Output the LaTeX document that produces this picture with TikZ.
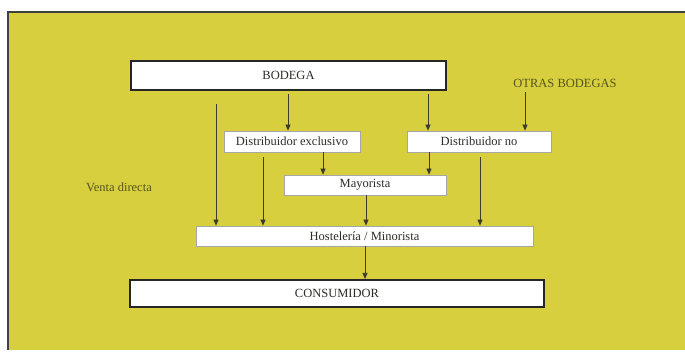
\documentclass[tikz,border=0pt]{standalone}
\usepackage{fontspec}
\setmainfont{Liberation Serif}
\usetikzlibrary{arrows.meta}
\definecolor{bgyellow}{RGB}{215,207,62}
\definecolor{txtdark}{RGB}{45,45,40}
\definecolor{txtolive}{RGB}{85,85,30}
\definecolor{arrcol}{RGB}{60,60,45}
\tikzset{
  box/.style={draw=gray!70, line width=0.7pt, fill=white, inner sep=0pt, text=txtdark,
    font=\fontsize{12.5}{14}\selectfont},
  bigbox/.style={box, draw=black!85, line width=2pt},
  freetext/.style={inner sep=0pt, text=txtolive, font=\fontsize{12.5}{14}\selectfont},
  arr/.style={draw=arrcol, line width=0.7pt, -{Triangle[length=6pt,width=5pt]}}
}
\begin{document}
\begin{tikzpicture}[x=1pt,y=-1pt]
\useasboundingbox (0,0) rectangle (685,363);
\fill[white] (0,0) rectangle (685,363);
\fill[bgyellow] (8,12) rectangle (685,350);
\draw[black!75, line width=1.2pt] (8,350) -- (8,12) -- (685,12);

\node[bigbox, minimum width=315, minimum height=29] (bodega) at (288.5,75.5) {BODEGA};
\node[freetext] (otras) at (565,83) {OTRAS BODEGAS};
\node[box, minimum width=136, minimum height=21] (dexc) at (292,141.5) {Distribuidor exclusivo};
\node[box, minimum width=144, minimum height=21] (dno) at (479,141.5) {Distribuidor no};
\node[box, minimum width=162, minimum height=20] (mayor) at (365,185) {Mayorista};
\node[freetext] (venta) at (119,187) {Venta directa};
\node[box, minimum width=337, minimum height=20] (host) at (364.5,236) {Hostelería / Minorista};
\node[bigbox, minimum width=414, minimum height=27] (cons) at (337,293.5) {CONSUMIDOR};

\draw[arr, shorten <=13pt] (bodega.south -| 216,0) -- (host.north -| 216,0);
\draw[arr, shorten <=3pt] (bodega.south -| 288,0) -- (dexc.north -| 288,0);
\draw[arr, shorten <=3pt] (bodega.south -| 428,0) -- (dno.north -| 428,0);
\draw[arr, shorten <=5pt] (otras.south -| 525,0) -- (dno.north -| 525,0);
\draw[arr, shorten <=5pt] (dexc.south -| 263,0) -- (host.north -| 263,0);
\draw[arr] (dexc.south -| 323,0) -- (mayor.north -| 323,0);
\draw[arr] (dno.south -| 429,0) -- (mayor.north -| 429,0);
\draw[arr, shorten <=5pt] (dno.south -| 480,0) -- (host.north -| 480,0);
\draw[arr] (mayor.south -| 366,0) -- (host.north -| 366,0);
\draw[arr] (host.south -| 365,0) -- (cons.north -| 365,0);
\end{tikzpicture}
\end{document}
